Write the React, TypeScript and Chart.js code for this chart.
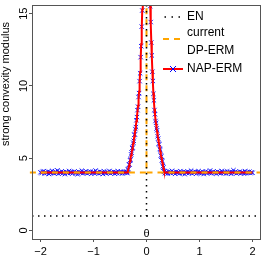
import React, { useEffect, useRef } from "react";
import { Chart, registerables } from "chart.js";

Chart.register(...registerables);

const FONT = '"Liberation Sans", Arial, Helvetica, sans-serif';
const AXIS = "#555";

// ---- axes ----
const xTicks = [-2, -1, 0, 1, 2];
const yTicks = [0, 5, 10, 15];
const xLimits = [-2.16, 2.16];
const yLimits = [-0.6, 15.6];
const yTitle = "strong convexity modulus";
const xAnnot = "θ";

// ---- legend ----
const legendEN = ["EN"];
const legendDP = ["current", "DP-ERM"];
const legendNAP = ["NAP-ERM"];

// ---- EN (black dotted) ----
const enX = [-2.16, 0, 0, 0, 0, 2.16];
const enY = [1, 1, 40, null, 1, 1];

// ---- current DP-ERM (orange dashed) ----
const dpX = [-2.2, 0, 0, 0, 0, 2.14];
const dpY = [4, 4, 40, null, 4, 4];

// ---- NAP-ERM red line ----
const leftSpikeX = [-0.37, -0.36, -0.35, -0.34, -0.33, -0.32, -0.31, -0.30, -0.29, -0.28, -0.27, -0.26, -0.25, -0.24, -0.23, -0.22, -0.21, -0.20, -0.19, -0.18, -0.17, -0.16, -0.15, -0.14, -0.13, -0.12, -0.11, -0.10, -0.09, -0.08, -0.07];
const leftSpikeLine = [4.0, 4.02, 4.12, 4.28, 4.45, 4.63, 4.82, 5.01, 5.2, 5.4, 5.6, 5.81, 6.03, 6.25, 6.49, 6.73, 6.99, 7.26, 7.55, 7.87, 8.22, 8.62, 9.08, 9.62, 10.25, 10.97, 11.85, 12.9, 14.0, 15.3, 16.6];
const rightSpikeX = [0.07, 0.08, 0.09, 0.10, 0.11, 0.12, 0.13, 0.14, 0.15, 0.16, 0.17, 0.18, 0.19, 0.20, 0.21, 0.22, 0.23, 0.24, 0.25, 0.26, 0.27, 0.28, 0.29, 0.30, 0.31, 0.32, 0.33, 0.34, 0.35];
const rightSpikeLine = [15.6, 14.3, 13.1, 12.05, 11.1, 10.25, 9.5, 8.9, 8.4, 8.0, 7.66, 7.36, 7.08, 6.82, 6.57, 6.33, 6.1, 5.88, 5.67, 5.46, 5.26, 5.06, 4.87, 4.68, 4.5, 4.32, 4.15, 4.02, 4.0];
const lineEndX = [-2.0, 2.0];
const lineEndY = [4.0, 4.0];
const peakX = 0;
const peakY = 40;

// ---- NAP-ERM blue markers ----
const flatLeftX = [-2.00, -1.98, -1.96, -1.94, -1.92, -1.90, -1.88, -1.86, -1.84, -1.82,
  -1.80, -1.78, -1.76, -1.74, -1.72, -1.70, -1.68, -1.66, -1.64, -1.62,
  -1.60, -1.58, -1.56, -1.54, -1.52, -1.50, -1.48, -1.46, -1.44, -1.42,
  -1.40, -1.38, -1.36, -1.34, -1.32, -1.30, -1.28, -1.26, -1.24, -1.22,
  -1.20, -1.18, -1.16, -1.14, -1.12, -1.10, -1.08, -1.06, -1.04, -1.02,
  -1.00, -0.98, -0.96, -0.94, -0.92, -0.90, -0.88, -0.86, -0.84, -0.82,
  -0.80, -0.78, -0.76, -0.74, -0.72, -0.70, -0.68, -0.66, -0.64, -0.62,
  -0.60, -0.58, -0.56, -0.54, -0.52, -0.50, -0.48, -0.46, -0.44, -0.42,
  -0.40, -0.38];
const flatLeftY = [4.02, 3.96, 4.05, 4.10, 3.93, 4.01, 3.98, 4.07, 3.90, 4.04,
  3.97, 4.12, 4.00, 3.94, 4.06, 3.99, 4.15, 3.92, 4.03, 3.97,
  4.08, 3.95, 4.01, 3.89, 4.05, 4.02, 3.96, 4.11, 3.98, 4.04,
  3.93, 4.00, 4.07, 3.96, 4.03, 3.88, 4.06, 4.01, 3.97, 4.13,
  3.95, 4.02, 3.99, 4.09, 3.94, 4.04, 3.98, 4.06, 3.91, 4.00,
  4.05, 3.96, 4.14, 3.99, 4.02, 3.93, 4.07, 3.97, 4.03, 3.90,
  4.08, 4.00, 3.95, 4.04, 3.98, 4.11, 3.94, 4.02, 3.99, 4.06,
  3.92, 4.03, 3.97, 4.09, 4.01, 3.96, 4.05, 3.93, 4.02, 4.07,
  3.98, 4.04];
const leftSpikePts = [4.05, 3.96, 4.20, 4.24, 4.55, 4.56, 4.85, 4.91, 5.26, 5.38, 5.69, 5.73, 6.07, 6.20, 6.61, 6.64, 7.01, 7.15, 7.62, 7.84, 8.32, 8.56, 9.23, 9.50, 10.33, 10.87, 11.99, 12.75, 14.1, 15.22, 16.72];
const rightSpikePts = [15.52, 14.42, 13.0, 12.11, 10.98, 10.34, 9.45, 9.0, 8.33, 8.04, 7.57, 7.44, 7.05, 6.93, 6.51, 6.35, 6.0, 5.95, 5.63, 5.55, 5.18, 5.11, 4.85, 4.78, 4.44, 4.35, 4.06, 4.08, 3.96];
const flatRightX = [0.36, 0.38, 0.40, 0.42, 0.44, 0.46, 0.48, 0.50, 0.52, 0.54,
  0.56, 0.58, 0.60, 0.62, 0.64, 0.66, 0.68, 0.70, 0.72, 0.74,
  0.76, 0.78, 0.80, 0.82, 0.84, 0.86, 0.88, 0.90, 0.92, 0.94,
  0.96, 0.98, 1.00, 1.02, 1.04, 1.06, 1.08, 1.10, 1.12, 1.14,
  1.16, 1.18, 1.20, 1.22, 1.24, 1.26, 1.28, 1.30, 1.32, 1.34,
  1.36, 1.38, 1.40, 1.42, 1.44, 1.46, 1.48, 1.50, 1.52, 1.54,
  1.56, 1.58, 1.60, 1.62, 1.64, 1.66, 1.68, 1.70, 1.72, 1.74,
  1.76, 1.78, 1.80, 1.82, 1.84, 1.86, 1.88, 1.90, 1.92, 1.94,
  1.96, 1.98, 2.00];
const flatRightY = [3.97, 4.04, 3.93, 4.08, 4.01, 3.96, 4.12, 3.99, 4.03, 3.91,
  4.06, 3.98, 4.02, 3.94, 4.10, 4.00, 3.95, 4.05, 3.89, 4.03,
  3.99, 4.07, 3.96, 4.02, 4.13, 3.93, 4.04, 3.98, 4.06, 3.92,
  4.01, 4.09, 3.97, 4.03, 3.95, 4.05, 3.90, 4.02, 4.08, 3.96,
  4.04, 3.99, 4.14, 3.94, 4.01, 4.06, 3.97, 4.03, 3.92, 4.07,
  3.98, 4.02, 3.95, 4.11, 4.00, 3.96, 4.05, 3.93, 4.08, 4.01,
  3.97, 4.04, 3.91, 4.03, 4.16, 3.99, 4.06, 3.94, 4.02, 3.98,
  4.07, 3.95, 4.03, 4.00, 3.92, 4.09, 3.97, 4.04, 3.99, 4.06,
  3.96, 4.02, 3.98];

const pts = (xs: number[], ys: (number | null)[]) => xs.map((x, i) => ({ x, y: ys[i] }));

const decor = {
  id: "decor",
  afterDraw(chart: any) {
    const { ctx, chartArea: a, scales } = chart;
    ctx.save();
    // box
    ctx.setLineDash([]);
    ctx.strokeStyle = AXIS;
    ctx.lineWidth = 1;
    ctx.strokeRect(a.left + 0.5, a.top + 0.5, a.right - a.left - 1, a.bottom - a.top);

    ctx.fillStyle = "#000";
    // y tick labels (rotated like R)
    ctx.font = `11px ${FONT}`;
    ctx.textAlign = "center";
    ctx.textBaseline = "middle";
    yTicks.forEach((v) => {
      const py = scales.y.getPixelForValue(v);
      ctx.save();
      ctx.translate(24, py);
      ctx.rotate(-Math.PI / 2);
      ctx.fillText(String(v), 0, 0);
      ctx.restore();
    });
    // y title
    ctx.save();
    ctx.translate(6, 84);
    ctx.rotate(-Math.PI / 2);
    ctx.fillText(yTitle, 0, 0);
    ctx.restore();
    // theta annotation
    ctx.fillText(xAnnot, scales.x.getPixelForValue(0), 234);

    // legend
    ctx.font = `12px ${FONT}`;
    ctx.textAlign = "left";
    const tx = 187;
    // EN
    ctx.strokeStyle = "#000";
    ctx.lineWidth = 1.5;
    ctx.setLineDash([1.5, 5.5]);
    ctx.beginPath();
    ctx.moveTo(164.5, 17);
    ctx.lineTo(182, 17);
    ctx.stroke();
    ctx.fillText(legendEN[0], tx, 17);
    // DP
    ctx.strokeStyle = "#FFA500";
    ctx.lineWidth = 2;
    ctx.setLineDash([6, 5]);
    ctx.beginPath();
    ctx.moveTo(163, 39);
    ctx.lineTo(182, 39);
    ctx.stroke();
    ctx.fillText(legendDP[0], tx, 33);
    ctx.fillText(legendDP[1], tx, 51);
    // NAP
    ctx.setLineDash([]);
    ctx.strokeStyle = "#FF0000";
    ctx.lineWidth = 2;
    ctx.beginPath();
    ctx.moveTo(163, 69);
    ctx.lineTo(183, 69);
    ctx.stroke();
    ctx.strokeStyle = "#0000FF";
    ctx.lineWidth = 1;
    ctx.beginPath();
    ctx.moveTo(170, 66);
    ctx.lineTo(176, 72);
    ctx.moveTo(176, 66);
    ctx.lineTo(170, 72);
    ctx.stroke();
    ctx.fillStyle = "#000";
    ctx.fillText(legendNAP[0], tx, 69);
    ctx.restore();
  },
};

export default function App() {
  const ref = useRef<HTMLCanvasElement>(null);
  useEffect(() => {
    document.body.style.margin = "0";
    const redLine = [
      { x: lineEndX[0], y: lineEndY[0] },
      ...pts(leftSpikeX, leftSpikeLine),
      { x: peakX, y: peakY },
      ...pts(rightSpikeX, rightSpikeLine),
      { x: lineEndX[1], y: lineEndY[1] },
    ];
    const markers = [
      ...pts(flatLeftX, flatLeftY),
      ...pts(leftSpikeX, leftSpikePts),
      ...pts(rightSpikeX, rightSpikePts),
      ...pts(flatRightX, flatRightY),
    ];
    const chart = new Chart(ref.current!, {
      type: "scatter",
      data: {
        datasets: [
          {
            label: "EN",
            type: "line",
            data: pts(enX, enY),
            showLine: true,
            borderColor: "#000",
            borderWidth: 1.5,
            borderDash: [1.5, 4.5],
            pointRadius: 0,
            spanGaps: false,
            clip: 0,
          } as any,
          {
            label: "current DP-ERM",
            type: "line",
            data: pts(dpX, dpY),
            showLine: true,
            borderColor: "#FFA500",
            borderWidth: 2,
            borderDash: [6, 5],
            pointRadius: 0,
            spanGaps: false,
            clip: { left: 3, top: 0, right: 0, bottom: 0 },
          } as any,
          {
            label: "NAP-ERM",
            type: "line",
            data: redLine,
            showLine: true,
            borderColor: "#FF0000",
            borderWidth: 2,
            pointRadius: 0,
            clip: 0,
          } as any,
          {
            label: "NAP-ERM points",
            type: "scatter",
            data: markers,
            showLine: false,
            pointStyle: "crossRot",
            pointRadius: 3.1,
            pointBorderWidth: 1,
            pointBorderColor: "#1515FF",
            pointBackgroundColor: "#1515FF",
            clip: 0,
          } as any,
        ],
      },
      options: {
        animation: false,
        responsive: false,
        devicePixelRatio: 1,
        layout: { padding: { top: 3, right: 4, left: 0, bottom: 0 } },
        plugins: { legend: { display: false }, tooltip: { enabled: false } },
        scales: {
          x: {
            type: "linear",
            min: xLimits[0],
            max: xLimits[1],
            afterBuildTicks: (s: any) => {
              s.ticks = xTicks.map((v) => ({ value: v }));
            },
            afterFit: (s: any) => {
              s.height = 18;
            },
            grid: { drawOnChartArea: false, drawTicks: true, tickLength: 3, color: AXIS, lineWidth: 1 },
            border: { display: false },
            ticks: {
              font: { family: FONT, size: 11 },
              color: "#000",
              padding: 3,
              maxRotation: 0,
              autoSkip: false,
              callback: (v: any) => String(v).replace("-", "\u2212"),
            },
          },
          y: {
            type: "linear",
            min: yLimits[0],
            max: yLimits[1],
            afterBuildTicks: (s: any) => {
              s.ticks = yTicks.map((v) => ({ value: v }));
            },
            afterFit: (s: any) => {
              s.width = 32;
            },
            grid: { drawOnChartArea: false, drawTicks: true, tickLength: 3, color: AXIS, lineWidth: 1 },
            border: { display: false },
            ticks: { display: false },
          },
        },
      } as any,
      plugins: [decor],
    });
    return () => chart.destroy();
  }, []);
  return (
    <canvas
      ref={ref}
      width={266}
      height={257}
      style={{ display: "block", position: "absolute", left: 0, top: 0 }}
    />
  );
}
